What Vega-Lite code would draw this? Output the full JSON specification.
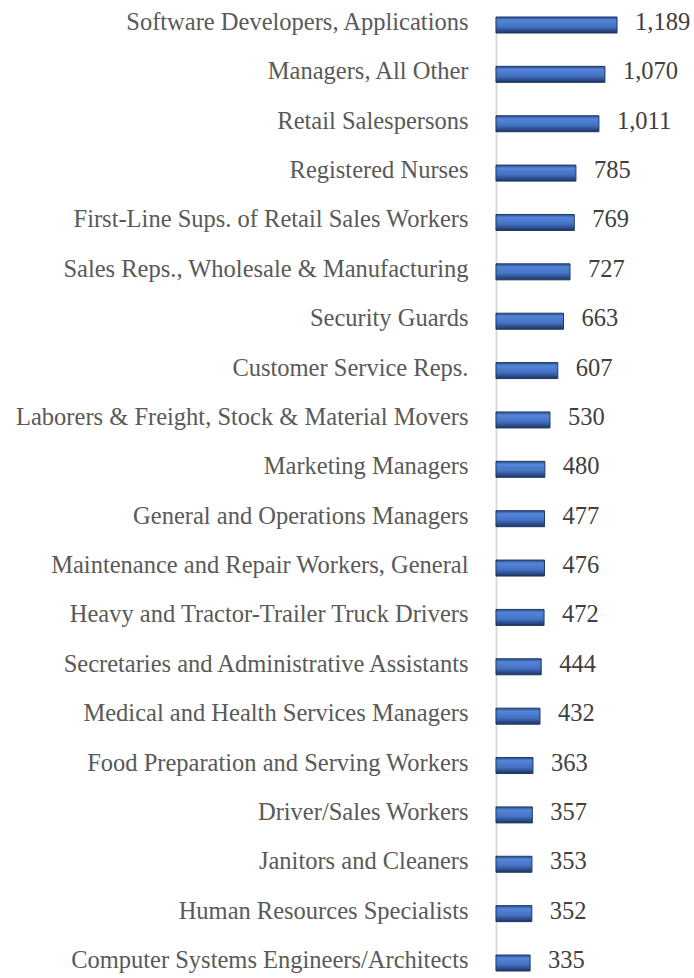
{
  "$schema": "https://vega.github.io/schema/vega-lite/v6.json",
  "width": 198,
  "height": 978,
  "autosize": "none",
  "padding": {"left": 496, "top": 0, "right": 0, "bottom": 0},
  "background": "white",
  "data": {"values": [
    {"job": "Software Developers, Applications", "value": 1189},
    {"job": "Managers, All Other", "value": 1070},
    {"job": "Retail Salespersons", "value": 1011},
    {"job": "Registered Nurses", "value": 785},
    {"job": "First-Line Sups. of Retail Sales Workers", "value": 769},
    {"job": "Sales Reps., Wholesale & Manufacturing", "value": 727},
    {"job": "Security Guards", "value": 663},
    {"job": "Customer Service Reps.", "value": 607},
    {"job": "Laborers & Freight, Stock & Material Movers", "value": 530},
    {"job": "Marketing Managers", "value": 480},
    {"job": "General and Operations Managers", "value": 477},
    {"job": "Maintenance and Repair Workers, General", "value": 476},
    {"job": "Heavy and Tractor-Trailer Truck Drivers", "value": 472},
    {"job": "Secretaries and Administrative Assistants", "value": 444},
    {"job": "Medical and Health Services Managers", "value": 432},
    {"job": "Food Preparation and Serving Workers", "value": 363},
    {"job": "Driver/Sales Workers", "value": 357},
    {"job": "Janitors and Cleaners", "value": 353},
    {"job": "Human Resources Specialists", "value": 352},
    {"job": "Computer Systems Engineers/Architects", "value": 335}
  ]},
  "config": {"view": {"stroke": null}},
  "encoding": {
    "y": {
      "field": "job", "type": "nominal", "sort": null, "title": null,
      "scale": {"range": [17, 971], "paddingInner": 0.676, "paddingOuter": 0},
      "axis": {
        "domainColor": "#d9d9d9", "domainWidth": 2, "ticks": false,
        "labelFont": "Liberation Serif", "labelFontSize": 24.5, "labelColor": "#595959",
        "labelPadding": 28, "labelLimit": 600, "labelOffset": -2
      }
    },
    "x": {
      "field": "value", "type": "quantitative", "title": null,
      "scale": {"domain": [0, 1945], "nice": false},
      "axis": null
    }
  },
  "layer": [
    {
      "mark": {
        "type": "bar",
        "stroke": "#1f3864", "strokeWidth": 1,
        "color": {"gradient": "linear", "x1": 0, "y1": 0, "x2": 0, "y2": 1,
          "stops": [
            {"offset": 0, "color": "#2c4f8f"},
            {"offset": 0.2, "color": "#5585d8"},
            {"offset": 0.6, "color": "#4472c4"},
            {"offset": 1, "color": "#1c3564"}
          ]}
      }
    },
    {
      "mark": {"type": "text", "align": "left", "baseline": "middle", "dx": 18, "dy": -2,
        "font": "Liberation Serif", "fontSize": 24.5, "color": "#404040"},
      "encoding": {"text": {"field": "value", "type": "quantitative", "format": ","}}
    }
  ]
}
